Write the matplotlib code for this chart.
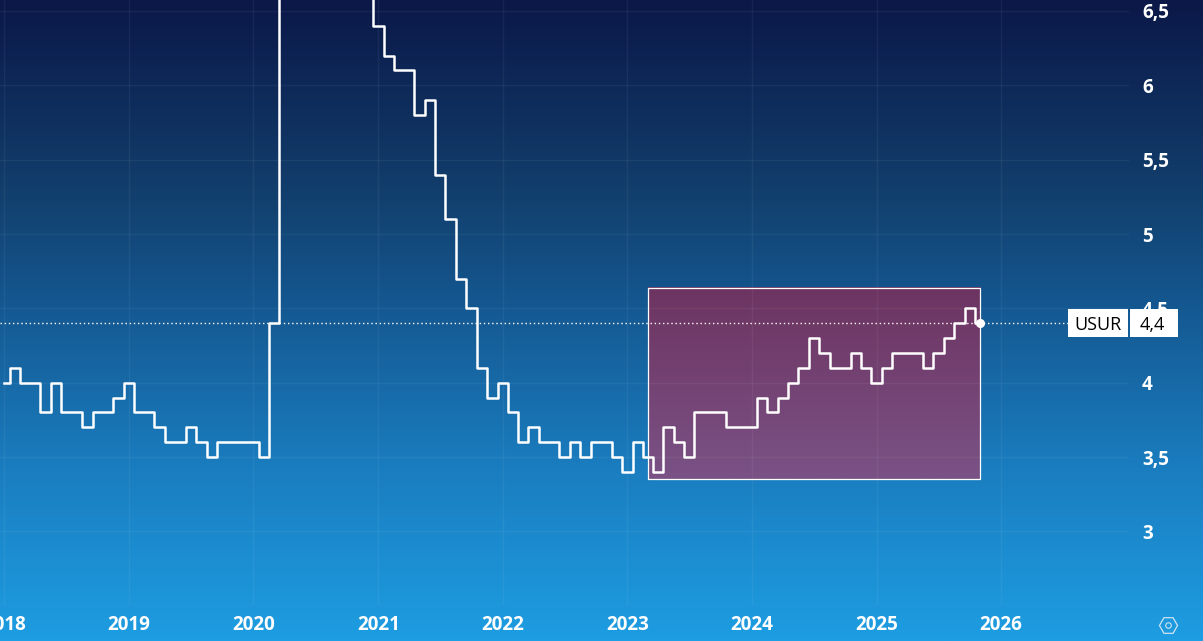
import numpy as np
import pandas as pd
import matplotlib
matplotlib.use("Agg")
import matplotlib.pyplot as plt
import matplotlib.dates as mdates
from matplotlib.colors import LinearSegmentedColormap
from matplotlib.patches import Rectangle

# ============================
#       DATA
# ============================

# US unemployment rate, monthly, Jan 2018 .. Nov 2025
start_month = "2018-01-01"
usur = [
    4.0, 4.1, 4.0, 4.0, 3.8, 4.0, 3.8, 3.8, 3.7, 3.8, 3.8, 3.9,    # 2018
    4.0, 3.8, 3.8, 3.7, 3.6, 3.6, 3.7, 3.6, 3.5, 3.6, 3.6, 3.6,    # 2019
    3.6, 3.5, 4.4, 14.7, 13.2, 11.0, 10.2, 8.4, 7.8, 6.9, 6.7, 6.7,  # 2020
    6.4, 6.2, 6.1, 6.1, 5.8, 5.9, 5.4, 5.1, 4.7, 4.5, 4.1, 3.9,    # 2021
    4.0, 3.8, 3.6, 3.7, 3.6, 3.6, 3.5, 3.6, 3.5, 3.6, 3.6, 3.5,    # 2022
    3.4, 3.6, 3.5, 3.4, 3.7, 3.6, 3.5, 3.8, 3.8, 3.8, 3.7, 3.7,    # 2023
    3.7, 3.9, 3.8, 3.9, 4.0, 4.1, 4.3, 4.2, 4.1, 4.1, 4.2, 4.1,    # 2024
    4.0, 4.1, 4.2, 4.2, 4.2, 4.1, 4.2, 4.3, 4.4, 4.5, 4.4,         # 2025
]
series_name = "USUR"

year_ticks = [2018, 2019, 2020, 2021, 2022, 2023, 2024, 2025, 2026]
y_ticks = [3, 3.5, 4, 4.5, 5, 5.5, 6, 6.5]

# highlighted window
highlight_start = "2023-03-02"
highlight_low, highlight_high = 3.355, 4.64

# ============================
#       FIGURE
# ============================

W, H = 1203, 641
fig = plt.figure(figsize=(W / 100, H / 100), dpi=100)

# background gradient
bg = fig.add_axes([0, 0, 1, 1], zorder=0)
bg_cmap = LinearSegmentedColormap.from_list(
    "bg", [(0, "#0b1848"), (0.31, "#12406e"), (0.45, "#14548c"),
           (0.73, "#1a7dbf"), (1, "#1e9de2")])
bg.imshow(np.linspace(0, 1, 256).reshape(-1, 1), aspect="auto", cmap=bg_cmap,
          extent=[0, 1, 0, 1], origin="upper")
bg.set_xlim(0, 1)
bg.set_ylim(0, 1)
bg.axis("off")

# settings icon bottom right
bg.plot(1168 / W, 1 - 625 / H, marker="H", ms=13, mfc="none", mec="#cfe3f3", mew=0.9)
bg.plot(1168 / W, 1 - 625 / H, marker="o", ms=4, mfc="none", mec="#cfe3f3", mew=0.8)

ax = fig.add_axes([0, (H - 605) / H, 1129 / W, 605 / H], zorder=1)
ax.patch.set_alpha(0)
for s in ax.spines.values():
    s.set_visible(False)

dates = pd.date_range(start_month, periods=len(usur), freq="MS")
ax.plot(dates, usur, drawstyle="steps-mid", color="white", lw=1.8, zorder=4)
ax.plot(dates[-1], usur[-1], "o", color="white", ms=5.5, zorder=5)
ax.axhline(usur[-1], color="white", lw=1, ls=(0, (1, 2)), zorder=3)

# highlight box
rx0 = mdates.date2num(pd.Timestamp(highlight_start))
rx1 = mdates.date2num(dates[-1])
rect_cmap = LinearSegmentedColormap.from_list("hl", ["#6d3461", "#7a5285"])
ax.imshow(np.linspace(0, 1, 128).reshape(-1, 1), cmap=rect_cmap, aspect="auto",
          extent=[rx0, rx1, highlight_low, highlight_high], origin="upper", zorder=1)
ax.add_patch(Rectangle((rx0, highlight_low), rx1 - rx0, highlight_high - highlight_low,
                       fill=False, ec="white", lw=0.9, zorder=2))

# scales
ppd = 124.5 / 365.0
x0 = mdates.date2num(pd.Timestamp("2019-01-01")) - 129 / ppd
ax.set_xlim(x0, x0 + 1129 / ppd)
ax.set_ylim(6.5 - (605 - 11) / 148.67, 6.5 + 11 / 148.67)

ax.set_xticks([mdates.date2num(pd.Timestamp(f"{y}-01-01")) for y in year_ticks])
ax.set_xticklabels([str(y) for y in year_ticks])
ax.set_yticks(y_ticks)
ax.set_yticklabels([f"{v:g}".replace(".", ",") for v in y_ticks])
ax.yaxis.tick_right()
ax.tick_params(axis="both", length=0, colors="white", labelsize=13.5)
ax.tick_params(axis="y", pad=9.4)
ax.tick_params(axis="x", pad=7.5)
for lbl in ax.get_xticklabels() + ax.get_yticklabels():
    lbl.set_fontfamily("Open Sans")
    lbl.set_fontweight("bold")
ax.grid(True, color="white", alpha=0.05, lw=1)

# last value label
yc = ax.transData.transform((x0, usur[-1]))[1]
fig.add_artist(Rectangle((1068, yc - 14), 60, 28, transform=None,
                         fc="white", ec="none", zorder=5))
fig.add_artist(Rectangle((1130, yc - 14), 48, 28, transform=None,
                         fc="white", ec="none", zorder=5))
fig.text(1098, yc, series_name, transform=None, ha="center", va="center_baseline",
         fontsize=13, family="Open Sans", color="black", zorder=6)
fig.text(1152, yc, f"{usur[-1]:g}".replace(".", ","), transform=None, ha="center",
         va="center_baseline", fontsize=13, family="Open Sans", color="black", zorder=6)

fig.savefig("out.png", dpi=100)
